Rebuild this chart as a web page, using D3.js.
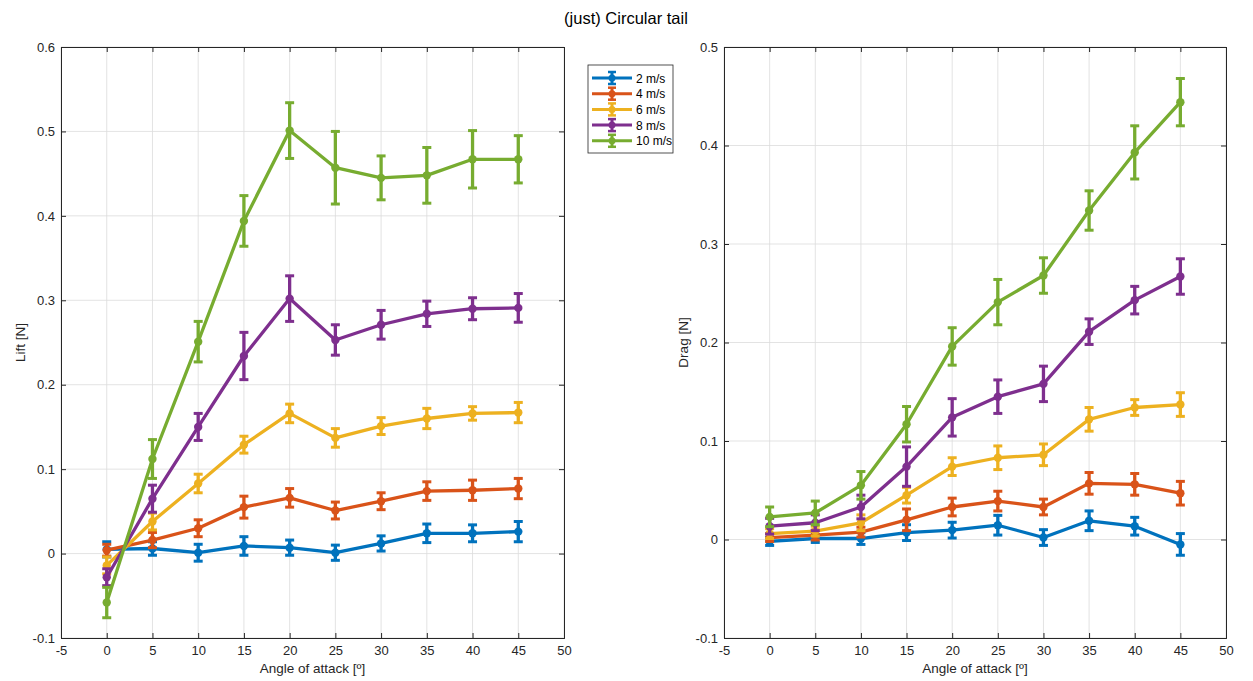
<!DOCTYPE html>
<html>
<head>
<meta charset="utf-8">
<script src="https://cdn.jsdelivr.net/npm/d3@7"></script>
<style>
  body { margin: 0; background: #fff; }
  svg { font-family: "Liberation Sans", Arial, sans-serif; }
  .grid line { stroke: #dcdcdc; stroke-width: 0.8; }
</style>
</head>
<body>
<svg id="fig" width="1253" height="681"></svg>
<script>
var angles = [0, 5, 10, 15, 20, 25, 30, 35, 40, 45];
var speeds = ["2 m/s", "4 m/s", "6 m/s", "8 m/s", "10 m/s"];
var colors = ["#0072BD", "#D95319", "#EDB120", "#7E2F8E", "#77AC30"];

// Lift [N], one row per speed
var liftMean = [
  [0.005, 0.006, 0.001, 0.009, 0.007, 0.001, 0.012, 0.024, 0.024, 0.026],
  [0.004, 0.016, 0.030, 0.055, 0.066, 0.051, 0.062, 0.074, 0.075, 0.077],
  [-0.014, 0.038, 0.083, 0.129, 0.166, 0.137, 0.151, 0.160, 0.166, 0.167],
  [-0.028, 0.065, 0.150, 0.234, 0.302, 0.253, 0.271, 0.284, 0.290, 0.291],
  [-0.058, 0.112, 0.251, 0.394, 0.501, 0.457, 0.445, 0.448, 0.467, 0.467]
];
var liftErr = [
  [0.009, 0.008, 0.010, 0.011, 0.009, 0.009, 0.009, 0.011, 0.010, 0.012],
  [0.007, 0.009, 0.010, 0.013, 0.011, 0.010, 0.010, 0.011, 0.012, 0.012],
  [0.010, 0.010, 0.011, 0.010, 0.011, 0.011, 0.010, 0.012, 0.008, 0.012],
  [0.010, 0.016, 0.016, 0.028, 0.027, 0.018, 0.017, 0.015, 0.013, 0.017],
  [0.018, 0.023, 0.024, 0.030, 0.033, 0.043, 0.026, 0.033, 0.034, 0.028]
];

// Drag [N]
var dragMean = [
  [-0.002, 0.001, 0.001, 0.007, 0.0095, 0.0145, 0.002, 0.019, 0.0135, -0.005],
  [0.002, 0.0045, 0.0075, 0.020, 0.033, 0.039, 0.033, 0.057, 0.056, 0.047],
  [0.006, 0.0085, 0.017, 0.045, 0.074, 0.083, 0.086, 0.122, 0.134, 0.137],
  [0.0135, 0.017, 0.033, 0.074, 0.124, 0.145, 0.158, 0.211, 0.243, 0.267],
  [0.023, 0.027, 0.055, 0.117, 0.196, 0.241, 0.268, 0.334, 0.393, 0.444]
];
var dragErr = [
  [0.004, 0.004, 0.006, 0.008, 0.008, 0.010, 0.008, 0.010, 0.009, 0.011],
  [0.004, 0.005, 0.005, 0.011, 0.009, 0.010, 0.008, 0.011, 0.011, 0.012],
  [0.005, 0.005, 0.008, 0.008, 0.009, 0.012, 0.011, 0.012, 0.008, 0.012],
  [0.008, 0.008, 0.012, 0.020, 0.019, 0.017, 0.018, 0.013, 0.014, 0.018],
  [0.010, 0.012, 0.014, 0.018, 0.019, 0.023, 0.018, 0.020, 0.027, 0.024]
];

var xTicks = d3.range(-5, 51, 5);
var liftTicks = [-0.1, 0, 0.1, 0.2, 0.3, 0.4, 0.5, 0.6];
var dragTicks = [-0.1, 0, 0.1, 0.2, 0.3, 0.4, 0.5];

var fig = d3.select("#fig");

fig.append("text")
    .attr("x", 626).attr("y", 24)
    .attr("text-anchor", "middle")
    .attr("font-size", 16.5)
    .attr("fill", "#000")
    .text("(just) Circular tail");

// plain hyphen minus, like the original
function fmt(v) { return String(+v.toFixed(1)); }

function drawPanel(box, yDomain, yTicks, yLabel, means, errs) {
  var x = d3.scaleLinear().domain([-5, 50]).range([box.left, box.right]);
  var y = d3.scaleLinear().domain(yDomain).range([box.bottom, box.top]);

  var g = fig.append("g");

  // grid
  var grid = g.append("g").attr("class", "grid");
  grid.selectAll(".gx").data(xTicks).enter().append("line")
      .attr("x1", function(d) { return x(d); }).attr("x2", function(d) { return x(d); })
      .attr("y1", box.top).attr("y2", box.bottom);
  grid.selectAll(".gy").data(yTicks).enter().append("line")
      .attr("y1", function(d) { return y(d); }).attr("y2", function(d) { return y(d); })
      .attr("x1", box.left).attr("x2", box.right);

  // axes (ticks inward, box on)
  var axisColor = "#262626";
  var bottom = g.append("g").attr("transform", "translate(0," + box.bottom + ")")
      .call(d3.axisBottom(x).tickValues(xTicks).tickSize(-5).tickPadding(8).tickFormat(fmt));
  var top = g.append("g").attr("transform", "translate(0," + box.top + ")")
      .call(d3.axisTop(x).tickValues(xTicks).tickSize(-5).tickFormat(""));
  var left = g.append("g").attr("transform", "translate(" + box.left + ",0)")
      .call(d3.axisLeft(y).tickValues(yTicks).tickSize(-5).tickPadding(6).tickFormat(fmt));
  var right = g.append("g").attr("transform", "translate(" + box.right + ",0)")
      .call(d3.axisRight(y).tickValues(yTicks).tickSize(-5).tickFormat(""));
  [bottom, top, left, right].forEach(function(a) {
    a.attr("font-size", 13).attr("font-family", "Liberation Sans, Arial, sans-serif");
    a.select(".domain").attr("stroke", axisColor).attr("stroke-width", 1);
    a.selectAll(".tick line").attr("stroke", axisColor);
    a.selectAll(".tick text").attr("fill", "#262626");
  });

  g.append("text")
      .attr("x", (box.left + box.right) / 2).attr("y", box.bottom + 35)
      .attr("text-anchor", "middle").attr("font-size", 13.5).attr("fill", "#262626")
      .text("Angle of attack [º]");
  g.append("text")
      .attr("transform", "translate(" + (box.left - 36) + "," + ((box.top + box.bottom) / 2) + ") rotate(-90)")
      .attr("text-anchor", "middle").attr("font-size", 13.5).attr("fill", "#262626")
      .text(yLabel);

  var line = d3.line()
      .x(function(d) { return x(d.a); })
      .y(function(d) { return y(d.v); });

  speeds.forEach(function(s, i) {
    var pts = angles.map(function(a, j) { return { a: a, v: means[i][j], e: errs[i][j] }; });
    var sg = g.append("g").attr("stroke", colors[i]).attr("fill", colors[i]);

    sg.append("path").datum(pts)
        .attr("d", line).attr("fill", "none").attr("stroke-width", 3.3)
        .attr("stroke-linejoin", "round");

    var eb = sg.selectAll(".eb").data(pts).enter().append("g");
    eb.append("line")
        .attr("x1", function(d) { return x(d.a); }).attr("x2", function(d) { return x(d.a); })
        .attr("y1", function(d) { return y(d.v - d.e); }).attr("y2", function(d) { return y(d.v + d.e); })
        .attr("stroke-width", 3.3);
    [-1, 1].forEach(function(sign) {
      eb.append("line")
          .attr("x1", function(d) { return x(d.a) - 4.5; }).attr("x2", function(d) { return x(d.a) + 4.5; })
          .attr("y1", function(d) { return y(d.v + sign * d.e); }).attr("y2", function(d) { return y(d.v + sign * d.e); })
          .attr("stroke-width", 3);
    });
    eb.append("circle")
        .attr("cx", function(d) { return x(d.a); }).attr("cy", function(d) { return y(d.v); })
        .attr("r", 4.2).attr("stroke", "none");
  });
}

drawPanel({ left: 61, right: 564, top: 47, bottom: 638 }, [-0.1, 0.6], liftTicks, "Lift [N]", liftMean, liftErr);
drawPanel({ left: 724, right: 1226, top: 47, bottom: 638 }, [-0.1, 0.5], dragTicks, "Drag [N]", dragMean, dragErr);

// legend
var leg = fig.append("g").attr("transform", "translate(588,65)");
leg.append("rect").attr("width", 85).attr("height", 88)
    .attr("fill", "#fff").attr("stroke", "#262626").attr("stroke-width", 0.8);
var entries = leg.selectAll(".legend-entry").data(speeds).enter().append("g")
    .attr("class", "legend-entry")
    .attr("transform", function(d, i) { return "translate(0," + (13 + i * 15.7) + ")"; });
entries.each(function(d, i) {
  var e = d3.select(this).attr("stroke", colors[i]).attr("fill", colors[i]);
  e.append("line").attr("x1", 4).attr("x2", 44).attr("stroke-width", 3);
  e.append("line").attr("x1", 24).attr("x2", 24).attr("y1", -6).attr("y2", 6).attr("stroke-width", 3);
  e.append("line").attr("x1", 20).attr("x2", 28).attr("y1", -6).attr("y2", -6).attr("stroke-width", 2.5);
  e.append("line").attr("x1", 20).attr("x2", 28).attr("y1", 6).attr("y2", 6).attr("stroke-width", 2.5);
  e.append("circle").attr("cx", 24).attr("r", 3.5).attr("stroke", "none");
  e.append("text").attr("x", 48).attr("y", 4.5).attr("stroke", "none").attr("fill", "#000")
      .attr("font-size", 12).text(d);
});
</script>
</body>
</html>
